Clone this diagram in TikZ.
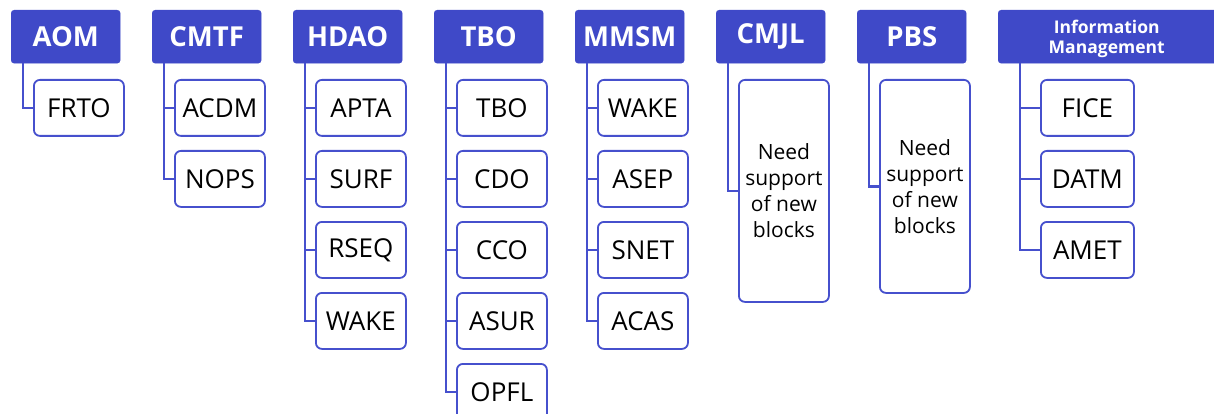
\documentclass[tikz,border=0pt]{standalone}
\usepackage{fontspec}
\setmainfont{Open Sans}
\definecolor{hdrblue}{RGB}{63,73,200}
\definecolor{edgeblue}{RGB}{70,80,205}
\begin{document}
\begin{tikzpicture}[x=1pt,y=-1pt,
  hdr/.style={draw=hdrblue,fill=hdrblue,rounded corners=3pt,minimum width=109pt,minimum height=53pt,
    anchor=north west,inner sep=0pt,text=white,font=\fontsize{27.5}{30}\selectfont\bfseries},
  leaf/.style={draw=edgeblue,line width=1.8pt,fill=white,rounded corners=6pt,minimum width=90pt,minimum height=56pt,
    anchor=north west,inner sep=0pt,font=\fontsize{26}{28}\selectfont},
  tall/.style={leaf,align=center,font=\fontsize{21}{26}\selectfont},
  link/.style={draw=edgeblue,line width=2.2pt}]
\useasboundingbox (0,0) rectangle (1214,414);
\clip (0,0) rectangle (1214,414);

% group headers
\node[hdr] (aom)  at (11,10)  {AOM};
\node[hdr] (cmtf) at (152,10) {CMTF};
\node[hdr] (hdao) at (293,10) {HDAO};
\node[hdr] (tbo)  at (434,10) {TBO};
\node[hdr] (mmsm) at (575,10) {MMSM};
\node[hdr] (cmjl) at (716,10) {CMJL};
\node[hdr] (pbs)  at (857,10) {PBS};
\node[hdr,minimum width=220pt,align=center,font=\fontsize{17.5}{21}\selectfont\bfseries,text depth=0pt]
  (info) at (998,10) {\hspace*{-3pt}Information\\[-1pt]\hspace*{-3pt}Management};

% AOM
\node[leaf] (frto) at (33,79) {FRTO};
% CMTF
\node[leaf] (acdm) at (174,79)  {ACDM};
\node[leaf] (nops) at (174,150) {NOPS};
% HDAO
\node[leaf] (apta) at (315,79)  {APTA};
\node[leaf] (surf) at (315,150) {SURF};
\node[leaf] (rseq) at (315,221) {RSEQ};
\node[leaf] (wakeh) at (315,292) {WAKE};
% TBO
\node[leaf] (tbol) at (456,79)  {TBO};
\node[leaf] (cdo)  at (456,150) {CDO};
\node[leaf] (cco)  at (456,221) {CCO};
\node[leaf] (asur) at (456,292) {ASUR};
\node[leaf] (opfl) at (456,363) {OPFL};
% MMSM
\node[leaf] (wakem) at (597,79)  {WAKE};
\node[leaf] (asep)  at (597,150) {ASEP};
\node[leaf] (snet)  at (597,221) {SNET};
\node[leaf] (acas)  at (597,292) {ACAS};
% CMJL and PBS
\node[tall,minimum height=222pt] (cmjlbox) at (738,79) {Need\\support\\of new\\blocks};
\node[tall,minimum height=213pt] (pbsbox)  at (879,79) {Need\\support\\of new\\blocks};
% Information Management
\node[leaf,minimum width=93pt] (fice) at (1040,79)  {FICE};
\node[leaf,minimum width=93pt] (datm) at (1040,150) {DATM};
\node[leaf,minimum width=93pt] (amet) at (1040,221) {AMET};

% connectors
\begin{scope}[on background layer/.try]
\foreach \h/\c in {aom/frto, cmtf/acdm, cmtf/nops,
    hdao/apta, hdao/surf, hdao/rseq, hdao/wakeh,
    tbo/tbol, tbo/cdo, tbo/cco, tbo/asur, tbo/opfl,
    mmsm/wakem, mmsm/asep, mmsm/snet, mmsm/acas,
    cmjl/cmjlbox, pbs/pbsbox}
  \draw[link] ([xshift=12pt]\h.south west) |- (\c.west);
\foreach \c in {fice, datm, amet}
  \draw[link] ([xshift=22pt]info.south west) |- (\c.west);
\end{scope}
\end{tikzpicture}
\end{document}
